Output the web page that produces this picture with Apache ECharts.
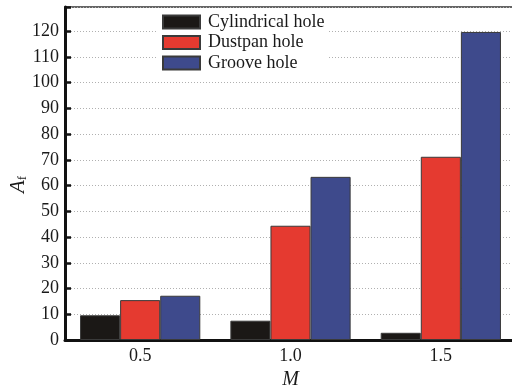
<!DOCTYPE html>
<html>
<head>
<meta charset="utf-8">
<script src="https://cdn.jsdelivr.net/npm/echarts@6/dist/echarts.min.js"></script>
<style>
  html, body { margin: 0; padding: 0; background: #fff; }
  #chart { width: 512px; height: 390px; }
</style>
</head>
<body>
<div id="chart"></div>
<script>
// Momentum ratio M on the x axis, A_f per hole shape
const categories = ['0.5', '1.0', '1.5'];
const seriesNames = ['Cylindrical hole', 'Dustpan hole', 'Groove hole'];
const cylindrical = [9.6, 7.5, 2.8];
const dustpan = [15.5, 44.4, 71.2];
const groove = [17.2, 63.4, 119.7];
const yTicks = [0, 10, 20, 30, 40, 50, 60, 70, 80, 90, 100, 110, 120];

const colors = ['#1b1816', '#e53a30', '#3e4a8c'];
const serif = '"Liberation Serif", "DejaVu Serif", serif';

const chart = echarts.init(document.getElementById('chart'));

chart.setOption({
  animation: false,
  backgroundColor: '#fff',
  textStyle: { fontFamily: serif },
  grid: {
    left: 65, top: 7, width: 451, height: 333,
    show: true, borderColor: '#333', borderWidth: 1.5,
    containLabel: false,
    outerBoundsMode: 'none'
  },
  legend: {
    data: seriesNames,
    orient: 'vertical',
    left: 158, top: 10,
    padding: [3, 4, 5, 4],
    backgroundColor: '#fff',
    icon: 'rect',
    itemWidth: 37, itemHeight: 13, itemGap: 2.5,
    textStyle: { fontFamily: serif, fontSize: 18, lineHeight: 18, color: '#1a1a1a', padding: [0, 0, 0, 3] }
  },
  xAxis: {
    type: 'category',
    data: categories,
    name: 'M',
    nameLocation: 'middle',
    nameGap: 30,
    nameMoveOverlap: false,
    nameTextStyle: { fontFamily: serif, fontSize: 20, fontStyle: 'italic', color: '#1a1a1a' },
    axisLine: { lineStyle: { color: '#111', width: 3 } },
    axisTick: { show: false },
    axisLabel: { fontFamily: serif, fontSize: 18, color: '#1a1a1a', margin: 7 },
    splitLine: { show: false }
  },
  yAxis: {
    type: 'value',
    min: 0, max: 129.4, interval: 10,
    name: '{i|A}{s|f}',
    nameLocation: 'middle',
    nameRotate: 90,
    nameGap: 36,
    nameMoveOverlap: false,
    nameTextStyle: {
      color: '#1a1a1a',
      padding: [0, 22, 0, 0],
      rich: {
        i: { fontFamily: serif, fontSize: 21, fontStyle: 'italic', color: '#1a1a1a' },
        s: { fontFamily: serif, fontSize: 13, color: '#1a1a1a', padding: [8, 0, 0, 0] }
      }
    },
    axisLine: { show: true, lineStyle: { color: '#111', width: 3 } },
    axisTick: { show: true, inside: true, length: 6, lineStyle: { color: '#111', width: 2.5 } },
    axisLabel: {
      fontFamily: serif, fontSize: 18, color: '#1a1a1a', margin: 6,
      formatter: v => (yTicks.indexOf(v) >= 0 ? String(v) : '')
    },
    splitLine: { show: true, lineStyle: { color: '#b0b0b0', width: 1, type: [1, 2] } }
  },
  series: [cylindrical, dustpan, groove].map((vals, i) => ({
    name: seriesNames[i],
    type: 'bar',
    data: vals,
    barGap: '0%',
    barCategoryGap: '20%',
    itemStyle: { color: colors[i], borderColor: '#3a3a3a', borderWidth: 1 }
  }))
});
</script>
</body>
</html>
